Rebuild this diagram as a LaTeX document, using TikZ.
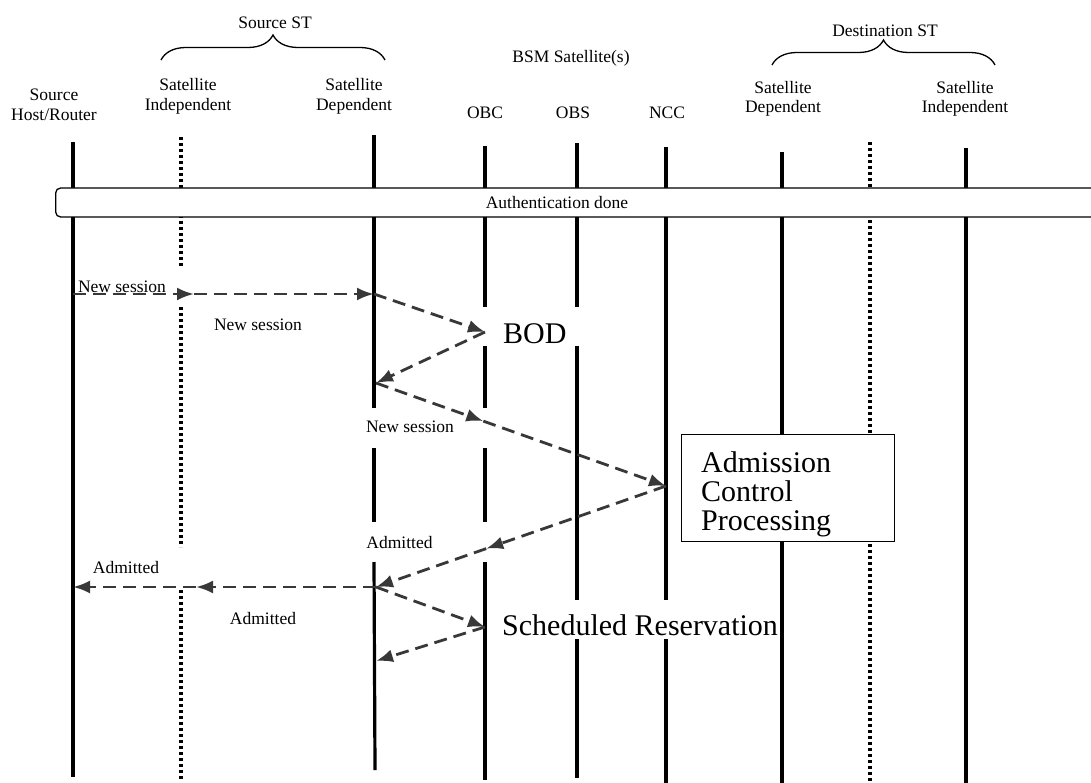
\documentclass[tikz,border=0pt]{standalone}
\usepackage{fontspec}
\setmainfont{Liberation Serif}
\usetikzlibrary{arrows.meta,calc,decorations.pathreplacing}
\definecolor{arrowgray}{HTML}{383838}
\begin{document}
\begin{tikzpicture}[x=1pt,y=-1pt,
  life/.style={line width=3.2pt,black},
  lifedot/.style={line width=3.2pt,black,dash pattern=on 3pt off 3pt},
  msg/.style={line width=2.8pt,draw=arrowgray,dash pattern=on 13pt off 7pt,
              -{Latex[length=17pt,width=13pt,fill=arrowgray]}},
  lbl/.style={font=\fontsize{17.5}{19.5}\selectfont,inner sep=0pt,align=center},
  big/.style={font=\fontsize{30}{29}\selectfont,inner sep=0pt,align=left},
  brc/.style={decorate,decoration={brace,amplitude=25pt},line width=1.3pt}
]
\useasboundingbox (0,0) rectangle (1091,783);
\clip (0,0) rectangle (1091,783);

% ---------- headers ----------
\node (srcst) [lbl] at (275,23) {Source ST};
\draw[brc] (161,60) -- (385,60);
\node (dstst) [lbl] at (885,31) {Destination ST};
\draw[brc] (772,65) -- (995,65);
\node (bsm) [lbl] at (571,58) {BSM Satellite(s)};

\node (hhost)  [lbl] at (54,105)   {Source\\Host/Router};
\node (hsind)  [lbl] at (188,96.5) {Satellite\\Independent};
\node (hsdep)  [lbl] at (354,96.5) {Satellite\\Dependent};
\node (hobc)   [lbl] at (485,113)  {OBC};
\node (hobs)   [lbl] at (573,113)  {OBS};
\node (hncc)   [lbl] at (667,113)  {NCC};
\node (hddep)  [lbl] at (783,99)   {Satellite\\Dependent};
\node (hdind)  [lbl] at (965,99)   {Satellite\\Independent};

% ---------- lifelines ----------
\draw[life] (73,142) -- (73,777);
\draw[lifedot] (181,137) -- (181,268);
\draw[lifedot] (181,307) -- (181,547);
\draw[lifedot] (181,590) -- (181,779);
\draw[life] (374,135) -- (374,408);
\draw[life] (374,448) -- (374,522);
\draw[life] (374,562) -- (375,770);
\draw[life] (485,146) -- (485,307);
\draw[life] (485,346) -- (485,408);
\draw[life] (485,448) -- (485,522);
\draw[life] (485,562) -- (485,780);
\draw[life] (577,143) -- (577,307);
\draw[life] (577,346) -- (577,600);
\draw[life] (577,639) -- (577,778);
\draw[life] (666,147) -- (666,600);
\draw[life] (666,639) -- (666,783);
\draw[life] (782,152) -- (782,783);
\draw[lifedot] (870,142) -- (870,783);
\draw[life] (966,148) -- (966,783);

% ---------- authentication bar ----------
\node (authbox) [draw,fill=white,rounded corners=5pt,line width=1.3pt,
  minimum width=1060pt,minimum height=29pt,inner sep=0pt,anchor=west] at (55,202.5) {};
\node (auth) [lbl] at (557,203) {Authentication done};

% ---------- processing blocks ----------
\node (bod) [big,anchor=base west] at (503,343) {BOD};
\node (acpbox) [draw,fill=white,line width=1.2pt,minimum width=213pt,
  minimum height=107pt,inner sep=0pt,anchor=north west] at (681,434) {};
\node (acp) [big,anchor=north west] at (701,451) {Admission\\Control\\Processing};
\node (sched) [big,anchor=base west] at (502,635) {Scheduled Reservation};

% ---------- message points ----------
\coordinate (h1)   at (73,294);
\coordinate (si1)  at (194,294);
\coordinate (sd1)  at (374,294);
\coordinate (obc1) at (485,332);
\coordinate (sd2)  at (376,383);
\coordinate (ncc1) at (666,486);
\coordinate (sd3)  at (376,587);
\coordinate (si2)  at (196,587);
\coordinate (h2)   at (73,587);
\coordinate (obc2) at (485,627);
\coordinate (sd4)  at (376,661);
\coordinate (mid4) at ($(sd2)!0.37!(ncc1)$);
\coordinate (mid5) at ($(ncc1)!0.62!(sd3)$);

% ---------- messages ----------
\draw[msg] (h1) -- (si1);
\draw[msg] (si1) -- (sd1);
\draw[msg] (sd1) -- (obc1);
\draw[msg] (obc1) -- (sd2);
\draw[msg] (sd2) -- (mid4);
\draw[msg] (mid4) -- (ncc1);
\draw[msg] (ncc1) -- (mid5);
\draw[msg] (mid5) -- (sd3);
\draw[msg] (sd3) -- (si2);
\draw[msg] (si2) -- (h2);
\draw[msg] (sd3) -- (obc2);
\draw[msg] (obc2) -- (sd4);

% ---------- message labels ----------
\node (l1) [lbl] at (122,287) {New session};
\node (l2) [lbl] at (258,325) {New session};
\node (l3) [lbl] at (410,427) {New session};
\node (l4) [lbl] at (399.5,543) {Admitted};
\node (l5) [lbl] at (126,568) {Admitted};
\node (l6) [lbl] at (263,619) {Admitted};
\end{tikzpicture}
\end{document}
